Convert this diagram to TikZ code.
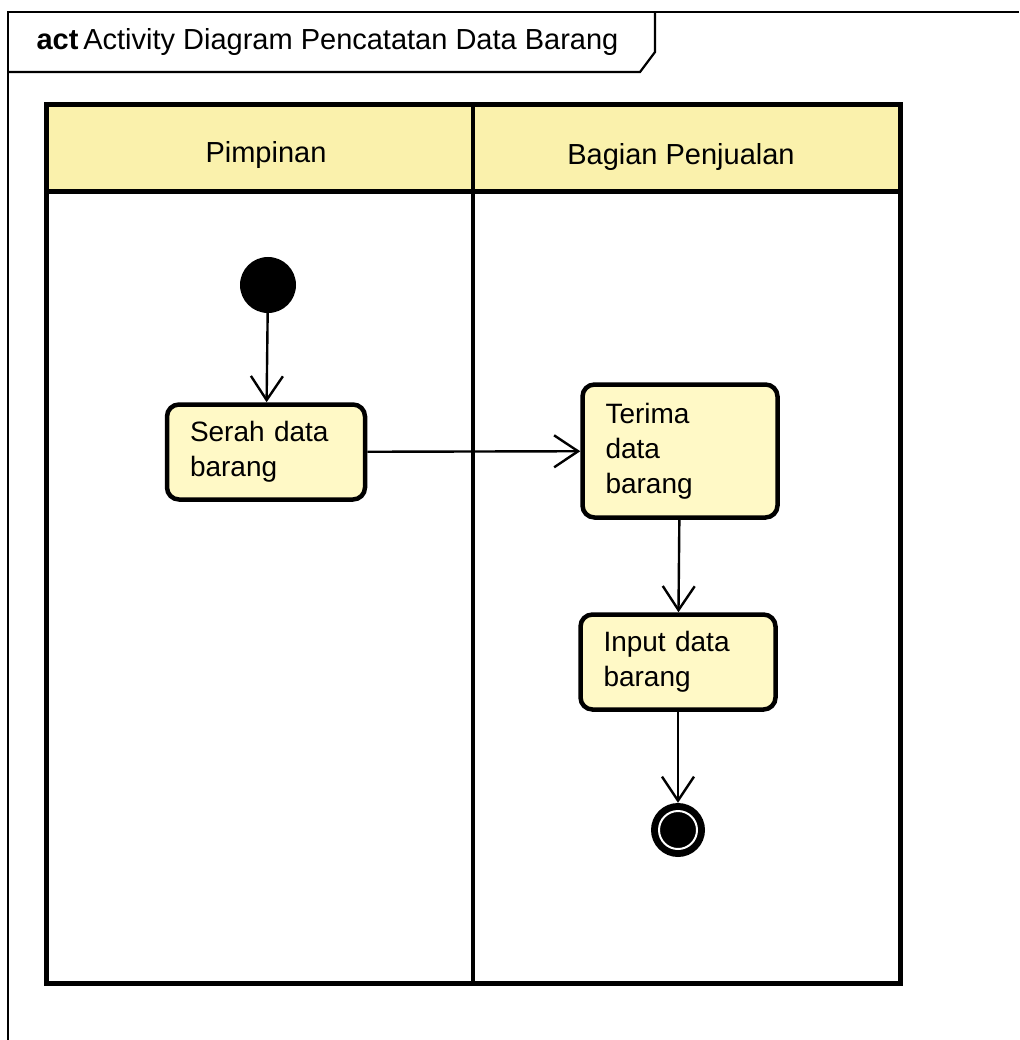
\documentclass[tikz,border=0pt]{standalone}
\usepackage{fontspec}
\setmainfont{Liberation Sans}
\usetikzlibrary{arrows.meta}
\definecolor{laneyellow}{RGB}{250,241,172}
\definecolor{actyellow}{RGB}{255,249,198}

\begin{document}
\begin{tikzpicture}[x=1pt, y=-1pt,
  action/.style={draw, line width=4.5pt, rounded corners=12pt, fill=actyellow, align=left,
    font=\fontsize{28}{35}\selectfont, inner xsep=23pt, inner ysep=0pt},
  flow/.style={line width=2.4pt, -{Straight Barb[length=24pt, width=32pt, line width=2.4pt]}},
  lanetext/.style={font=\fontsize{29}{34}\selectfont}]
\useasboundingbox (0,0) rectangle (1019,1040);

\draw[line width=2.2pt] (8,1040) -- (8,12) -- (1019,12);
\draw[line width=2.2pt] (8,72) -- (640,72) -- (655,52) -- (655,12);
\node[anchor=west, font=\fontsize{29}{34}\selectfont] (title) at (33,42) {\textbf{act}\,Activity Diagram Pencatatan Data Barang};

\draw[line width=5pt, fill=laneyellow] (46,105) rectangle (900,192);
\draw[line width=5pt] (46,105) rectangle (900,983);
\draw[line width=4pt] (473,105) -- (473,983);
\node[lanetext] (pimpinan) at (266,155) {Pimpinan};
\node[lanetext] (penjualan) at (681,157) {Bagian Penjualan};

\node[circle, fill=black, minimum size=56pt, inner sep=0pt] (start) at (268,285) {};
\node[action, text width=152pt, minimum height=95pt] (serah) at (266,452) {Serah data\\barang};
\node[action, text width=149pt, minimum height=133pt] (terima) at (680,451) {Terima\\data\\barang};
\node[action, text width=149pt, minimum height=95pt] (input) at (678,662) {Input data\\barang};
\node[circle, fill=black, minimum size=54pt, inner sep=0pt] (end) at (678,830) {};
\draw[white, line width=2pt] (end) circle[radius=19pt];

\draw[flow] (start) -- (serah);
\draw[flow] (serah) -- (terima);
\draw[flow] (terima) -- (input);
\draw[flow] (input) -- (end);

\end{tikzpicture}
\end{document}
